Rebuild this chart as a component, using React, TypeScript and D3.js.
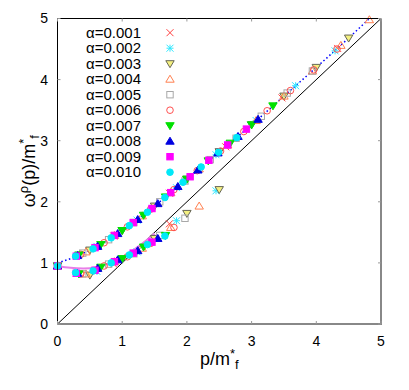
import * as d3 from "d3";

// p values and omega/m* values, one array per alpha
const s001: [number, number][] = [
  [0, 0.95], [0.87, 0.98], [1.73, 1.64],
  [0.87, 1.44], [1.73, 2.14], [2.6, 2.9], [3.47, 3.7], [4.33, 4.51],
];
const s002: [number, number][] = [
  [0, 0.95], [0.61, 0.86], [1.23, 1.18], [1.84, 1.69], [2.45, 2.18],
  [0.61, 1.27], [1.23, 1.7], [1.84, 2.23], [2.45, 2.77], [3.07, 3.33], [3.68, 3.9], [4.29, 4.47],
];
const s003: [number, number][] = [
  [0, 0.95], [0.5, 0.8], [1.0, 1.06], [1.5, 1.4], [2.0, 1.81], [2.5, 2.2],
  [0.5, 1.21], [1.0, 1.53], [1.5, 1.93], [2.0, 2.37], [2.5, 2.82], [3.0, 3.26], [3.5, 3.73], [4.0, 4.2], [4.5, 4.68],
];
const s004: [number, number][] = [
  [0, 0.95], [0.44, 0.82], [0.88, 1.02], [1.31, 1.24], [1.75, 1.58], [2.19, 1.93],
  [0.44, 1.18], [0.88, 1.45], [1.31, 1.77], [1.75, 2.15], [2.19, 2.54], [2.63, 2.93],
  [3.07, 3.33], [3.5, 3.73], [3.94, 4.14], [4.38, 4.56], [4.82, 4.98],
];
const s005: [number, number][] = [
  [0, 0.95], [0.39, 0.82], [0.79, 0.98], [1.18, 1.15], [1.58, 1.45], [1.97, 1.73],
  [0.39, 1.16], [0.79, 1.38], [1.18, 1.66], [1.58, 2.0], [1.97, 2.34], [2.36, 2.69],
  [2.76, 3.04], [3.15, 3.4], [3.55, 3.78], [3.94, 4.14],
];
const s006: [number, number][] = [
  [0, 0.95], [0.36, 0.82], [0.72, 0.95], [1.08, 1.1], [1.44, 1.32], [1.8, 1.58],
  [0.36, 1.14], [0.72, 1.33], [1.08, 1.59], [1.44, 1.88], [1.8, 2.2], [2.16, 2.51],
  [2.52, 2.83], [2.88, 3.15], [3.24, 3.49], [3.6, 3.82], [3.96, 4.16], [4.32, 4.5],
];
const s007: [number, number][] = [
  [0, 0.95], [0.33, 0.82], [0.67, 0.93], [1.0, 1.07], [1.33, 1.26], [1.67, 1.45],
  [0.33, 1.13], [0.67, 1.3], [1.0, 1.53], [1.33, 1.78], [1.67, 2.08], [2.0, 2.37],
  [2.33, 2.67], [2.67, 2.96], [3.0, 3.26], [3.33, 3.57],
];
const s008: [number, number][] = [
  [0, 0.95], [0.31, 0.83], [0.62, 0.91], [0.93, 1.05], [1.24, 1.2], [1.55, 1.4],
  [0.31, 1.12], [0.62, 1.27], [0.93, 1.48], [1.24, 1.71], [1.55, 1.97], [1.86, 2.25],
  [2.17, 2.52], [2.48, 2.8], [2.79, 3.07], [3.1, 3.35],
];
const s009: [number, number][] = [
  [0, 0.95], [0.29, 0.83], [0.58, 0.88], [0.88, 1.02], [1.17, 1.16], [1.46, 1.34],
  [0.29, 1.11], [0.58, 1.25], [0.88, 1.45], [1.17, 1.66], [1.46, 1.89], [1.75, 2.15],
  [2.05, 2.41], [2.34, 2.68], [2.63, 2.93], [2.92, 3.19],
];
const s010: [number, number][] = [
  [0, 0.95], [0.28, 0.84], [0.55, 0.87], [0.83, 1.0], [1.11, 1.13], [1.39, 1.3], [1.66, 1.44],
  [0.28, 1.11], [0.55, 1.23], [0.83, 1.41], [1.11, 1.61], [1.39, 1.83], [1.66, 2.07],
  [1.94, 2.32], [2.22, 2.57], [2.49, 2.81], [2.77, 3.05],
];

const labels = ["α=0.001", "α=0.002", "α=0.003", "α=0.004", "α=0.005",
  "α=0.006", "α=0.007", "α=0.008", "α=0.009", "α=0.010"];

// dotted fit through the upper branch
const upperP = [0, 0.25, 0.5, 0.75, 1, 1.25, 1.5, 1.75, 2, 2.5, 3, 3.5, 4, 4.5, 4.82];
const upperW = [1.0, 1.09, 1.21, 1.35, 1.52, 1.72, 1.93, 2.15, 2.37, 2.82, 3.26, 3.73, 4.2, 4.68, 5.0];
// magenta curve on the lower branch
const lowerP = [0, 0.2, 0.4, 0.6, 0.8, 1.0, 1.2, 1.4, 1.5];
const lowerW = [0.95, 0.92, 0.91, 0.93, 0.99, 1.09, 1.23, 1.39, 1.48];

const ticks = [0, 1, 2, 3, 4, 5];

type Kind = "x" | "star" | "tdown" | "tup" | "square" | "circle";
const styles: { kind: Kind; color: string; fill: string }[] = [
  { kind: "x", color: "#ff4040", fill: "none" },
  { kind: "star", color: "#30e8ff", fill: "none" },
  { kind: "tdown", color: "#666655", fill: "#f4f080" },
  { kind: "tup", color: "#ff8050", fill: "none" },
  { kind: "square", color: "#a8a8a8", fill: "none" },
  { kind: "circle", color: "#ff5050", fill: "none" },
  { kind: "tdown", color: "#00e000", fill: "#00e000" },
  { kind: "tup", color: "#0000e0", fill: "#0000e0" },
  { kind: "square", color: "#ff00ff", fill: "#ff00ff" },
  { kind: "circle", color: "#00e8f8", fill: "#00e8f8" },
];

function Marker({ x, y, kind, color, fill }: { x: number; y: number; kind: Kind; color: string; fill: string }) {
  const s = 3.5;
  if (kind === "x")
    return <path d={`M${x - s},${y - s}L${x + s},${y + s}M${x - s},${y + s}L${x + s},${y - s}`} stroke={color} strokeWidth={1} />;
  if (kind === "star")
    return <path d={`M${x - s},${y - s}L${x + s},${y + s}M${x - s},${y + s}L${x + s},${y - s}M${x - s},${y}L${x + s},${y}M${x},${y - s}L${x},${y + s}`} stroke={color} strokeWidth={1} />;
  if (kind === "tup")
    return <path d={`M${x},${y - 4}L${x + 4.2},${y + 3}L${x - 4.2},${y + 3}Z`} stroke={color} fill={fill} strokeWidth={1} />;
  if (kind === "tdown")
    return <path d={`M${x},${y + 4}L${x + 4.2},${y - 3}L${x - 4.2},${y - 3}Z`} stroke={color} fill={fill} strokeWidth={1} />;
  if (kind === "square")
    return <rect x={x - 3.2} y={y - 3.2} width={6.4} height={6.4} stroke={color} fill={fill} strokeWidth={1} />;
  return <circle cx={x} cy={y} r={3.3} stroke={color} fill={fill} strokeWidth={1} />;
}

export default function App() {
  const width = 409, height = 390;
  const left = 57.5, right = 381, top = 18.5, bottom = 324;
  const x = d3.scaleLinear([0, 5], [left, right]);
  const y = d3.scaleLinear([0, 5], [bottom, top]);
  const all = [s001, s002, s003, s004, s005, s006, s007, s008, s009, s010];

  const upperLine = d3.line<number>((_, i) => x(upperP[i]), (d) => y(d)).curve(d3.curveMonotoneX);
  const lowerLine = d3.line<number>((_, i) => x(lowerP[i]), (d) => y(d)).curve(d3.curveMonotoneX);

  return (
    <svg width={width} height={height} style={{ position: "absolute", left: 0, top: 0, background: "#fff" }}
      fontFamily="'Liberation Sans', Arial, sans-serif">
      {/* diagonal */}
      <line x1={x(0)} y1={y(0)} x2={x(5)} y2={y(5)} stroke="#000" strokeWidth={1} />
      <path d={lowerLine(lowerW) ?? ""} fill="none" stroke="#e87ee8" strokeWidth={2} />
      <path d={upperLine(upperW) ?? ""} fill="none" stroke="#0000ff" strokeWidth={1.5} strokeDasharray="1.5,2.5" />

      {all.map((pts, k) => (
        <g key={k}>
          {pts.map((d, i) => (
            <Marker key={i} x={x(d[0])} y={y(d[1])} {...styles[k]} />
          ))}
        </g>
      ))}

      {/* frame */}
      <line x1={left} y1={top} x2={right} y2={top} stroke="#000" />
      <line x1={left} y1={top} x2={left} y2={bottom} stroke="#000" />
      <line x1={right} y1={top} x2={right} y2={bottom + 1} stroke="#888" strokeWidth={2} />
      <line x1={left} y1={bottom} x2={right} y2={bottom} stroke="#888" strokeWidth={2} />

      {ticks.map((t) => (
        <g key={t} stroke="#999">
          <line x1={x(t)} x2={x(t)} y1={bottom} y2={bottom - 3} />
          <line x1={x(t)} x2={x(t)} y1={top} y2={top + 3} />
          <line x1={left} x2={left + 3} y1={y(t)} y2={y(t)} />
          <line x1={right} x2={right - 3} y1={y(t)} y2={y(t)} />
        </g>
      ))}

      {ticks.map((t) => (
        <text key={"x" + t} x={x(t)} y={346} textAnchor="middle" fontSize={14}>{t}</text>
      ))}
      {ticks.map((t) => (
        <text key={"y" + t} x={48} y={y(t)} dy="0.35em" textAnchor="end" fontSize={14}>{t}</text>
      ))}

      <text x={(left + right) / 2} y={365} textAnchor="middle" fontSize={18}>
        p/m<tspan dy={-7} fontSize={13}>*</tspan><tspan dy={11} fontSize={13}>f</tspan>
      </text>
      <text transform={`translate(35,${(top + bottom) / 2}) rotate(-90)`} textAnchor="middle" fontSize={18}>
        ω<tspan dy={-7} fontSize={13}>ρ</tspan><tspan dy={7}>(p)/m</tspan>
        <tspan dy={-7} fontSize={13}>*</tspan><tspan dy={11} fontSize={13}>f</tspan>
      </text>

      {labels.map((lab, i) => {
        const ly = 32.7 + i * 15.5;
        return (
          <g key={lab}>
            <text x={141} y={ly} dy="0.35em" textAnchor="end" fontSize={15}>{lab}</text>
            <Marker x={170} y={ly} {...styles[i]} />
          </g>
        );
      })}
    </svg>
  );
}
